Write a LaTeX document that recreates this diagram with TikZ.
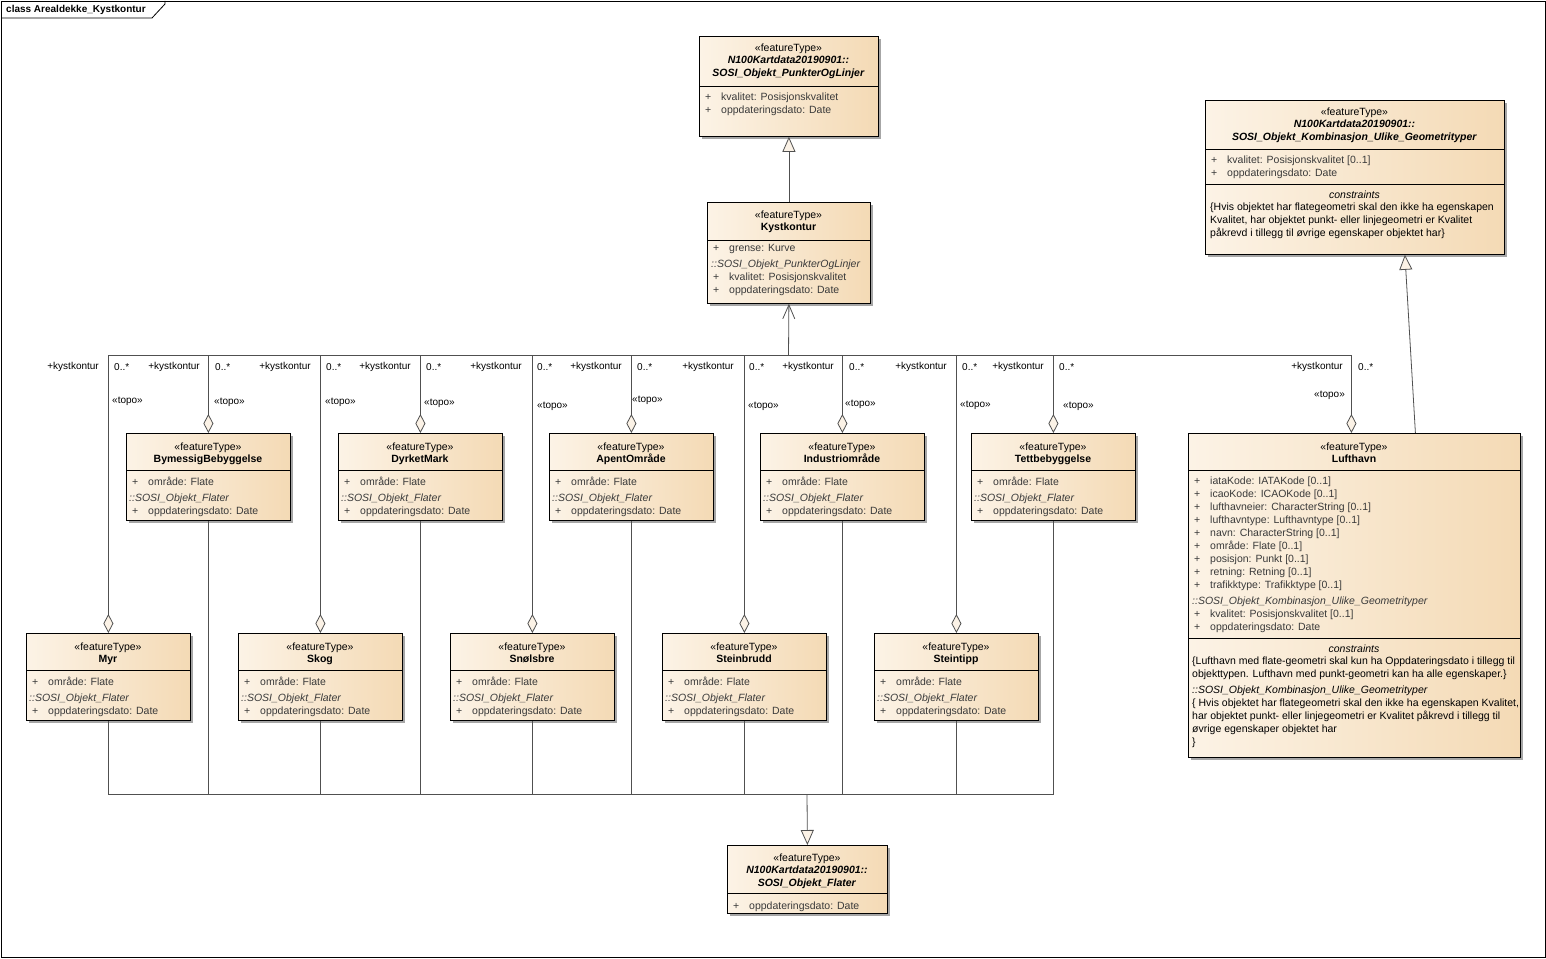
\documentclass[tikz,border=0pt]{standalone}
\usepackage{fontspec}
\setmainfont{Liberation Sans}
\usetikzlibrary{arrows.meta,shadows}

\definecolor{clsL}{HTML}{FCF3E6}
\definecolor{clsR}{HTML}{F4DAB5}
\definecolor{edge}{HTML}{505050}
\definecolor{attc}{HTML}{3A3A3A}
\definecolor{tipc}{HTML}{FBF2E6}

\newcommand{\ftype}{«featureType»}
\newcommand{\attrp}{\makebox[16pt][l]{+}}
\newcommand{\flatelines}{\attrp område: Flate\\[3pt]\hspace*{-3pt}\textit{::SOSI\_Objekt\_Flater}\\\attrp oppdateringsdato: Date}

\begin{document}
\begin{tikzpicture}[x=1pt, y=-1pt,
    cls/.style={draw=black, line width=0.8pt, rectangle, inner sep=0pt, anchor=north west,
      left color=clsL, right color=clsR,
      drop shadow={shadow xshift=3pt, shadow yshift=-3pt, fill=black!35, opacity=1}},
    hd/.style={anchor=north, align=center, inner sep=0pt, yshift=-2.5pt, font=\fontsize{10.5}{12.5}\selectfont,
      execute at begin node=\rule{0pt}{9pt}},
    att/.style={anchor=north west, align=left, inner sep=0pt, yshift=-2.5pt, text=attc, font=\fontsize{10.5}{13}\selectfont,
      execute at begin node=\rule{0pt}{9pt}},
    cns/.style={anchor=north west, align=left, inner sep=0pt, yshift=-2.5pt, font=\fontsize{10.5}{13}\selectfont,
      execute at begin node=\rule{0pt}{9pt}},
    lbl/.style={inner sep=0pt, font=\fontsize{10}{12}\selectfont},
    line/.style={draw=edge, line width=0.8pt},
    gen/.style={line, -{Triangle[length=15pt, width=13pt, fill=tipc]}},
    agg/.style={line, -{Diamond[length=19pt, width=10pt, fill=tipc]}},
    nav/.style={line, -{Straight Barb[length=14pt, width=12pt]}}]

  \useasboundingbox (0,0) rectangle (1546,958);
  % frame
  \draw[line width=0.8pt] (1,1) rectangle (1545,957);
  \draw[line width=0.8pt] (1,18) -- (152,18) -- (165,4) -- (165,1);
  \node[anchor=west, inner sep=0pt, font=\bfseries\fontsize{10}{12}\selectfont] (ttl) at (6,10) {class Arealdekke\_Kystkontur};

  % N100 PunkterOgLinjer
  \node[cls, minimum width=179pt, minimum height=100pt] (pol) at (699,36) {};
  \draw (699,86) -- (878,86);
  \node[hd] (polh) at (788.5,41) {\ftype\\\textbf{\textit{N100Kartdata20190901::}}\\\textbf{\textit{SOSI\_Objekt\_PunkterOgLinjer}}};
  \node[att] (pola) at (705,90) {\attrp kvalitet: Posisjonskvalitet\\\attrp oppdateringsdato: Date};

  % Kystkontur
  \node[cls, minimum width=163pt, minimum height=101pt] (kyst) at (707,202) {};
  \draw (707,240) -- (870,240);
  \node[hd] (kysth) at (788.5,208) {\ftype\\\textbf{Kystkontur}};
  \node[att] (kysta) at (713,242) {\attrp grense: Kurve\\[3pt]\hspace*{-2pt}\textit{::SOSI\_Objekt\_PunkterOgLinjer}\\\attrp kvalitet: Posisjonskvalitet\\\attrp oppdateringsdato: Date};

  % N100 Kombinasjon
  \node[cls, minimum width=299pt, minimum height=154pt] (komb) at (1205,100) {};
  \draw (1205,149) -- (1504,149);
  \draw (1205,184) -- (1504,184);
  \node[hd] (kombh) at (1354.5,105) {\ftype\\\textbf{\textit{N100Kartdata20190901::}}\\\textbf{\textit{SOSI\_Objekt\_Kombinasjon\_Ulike\_Geometrityper}}};
  \node[att] (komba) at (1211,153) {\attrp kvalitet: Posisjonskvalitet [0..1]\\\attrp oppdateringsdato: Date};
  \node[hd] (kombc) at (1354.5,187) {\textit{constraints}};
  \node[cns] (kombt) at (1210,200) {\{Hvis objektet har flategeometri skal den ikke ha egenskapen\\Kvalitet, har objektet punkt- eller linjegeometri er Kvalitet\\påkrevd i tillegg til øvrige egenskaper objektet har\}};

  % Lufthavn
  \node[cls, minimum width=332pt, minimum height=324pt] (luft) at (1188,433) {};
  \draw (1188,470) -- (1520,470);
  \draw (1188,638) -- (1520,638);
  \node[hd] (lufth) at (1354,440) {\ftype\\\textbf{Lufthavn}};
  \node[att] (lufta) at (1194,474) {\attrp iataKode: IATAKode [0..1]\\\attrp icaoKode: ICAOKode [0..1]\\\attrp lufthavneier: CharacterString [0..1]\\\attrp lufthavntype: Lufthavntype [0..1]\\\attrp navn: CharacterString [0..1]\\\attrp område: Flate [0..1]\\\attrp posisjon: Punkt [0..1]\\\attrp retning: Retning [0..1]\\\attrp trafikktype: Trafikktype [0..1]\\[3pt]\hspace*{-2pt}\textit{::SOSI\_Objekt\_Kombinasjon\_Ulike\_Geometrityper}\\\attrp kvalitet: Posisjonskvalitet [0..1]\\\attrp oppdateringsdato: Date};
  \node[hd] (luftc) at (1354,641) {\textit{constraints}};
  \node[cns] (luftt) at (1192,654) {\{Lufthavn med flate-geometri skal kun ha Oppdateringsdato i tillegg til\\objekttypen. Lufthavn med punkt-geometri kan ha alle egenskaper.\}\\[3pt]\textit{::SOSI\_Objekt\_Kombinasjon\_Ulike\_Geometrityper}\\\{ Hvis objektet har flategeometri skal den ikke ha egenskapen Kvalitet,\\har objektet punkt- eller linjegeometri er Kvalitet påkrevd i tillegg til\\øvrige egenskaper objektet har\\\}};

  % area classes, upper row
  \foreach \b/\bx/\bn in {bym/126/BymessigBebyggelse, dyr/338/DyrketMark, apent/549/ApentOmråde,
      ind/760/Industriområde, tett/971/Tettbebyggelse} {
    \node[cls, minimum width=164pt, minimum height=87pt] (\b) at (\bx,433) {};
    \draw (\bx,470) -- (\bx+164,470);
    \node[hd] (\b h) at (\bx+82,440) {\ftype\\\textbf{\bn}};
    \node[att] (\b a) at (\bx+6,474) {\flatelines};
  }
  % area classes, lower row
  \foreach \b/\bx/\bn in {myr/26/Myr, skog/238/Skog, snol/450/Snølsbre,
      steinb/662/Steinbrudd, steint/874/Steintipp} {
    \node[cls, minimum width=164pt, minimum height=87pt] (\b) at (\bx,633) {};
    \draw (\bx,670) -- (\bx+164,670);
    \node[hd] (\b h) at (\bx+82,640) {\ftype\\\textbf{\bn}};
    \node[att] (\b a) at (\bx+6,674) {\flatelines};
  }

  % N100 Flater
  \node[cls, minimum width=160pt, minimum height=68pt] (flat) at (727,845) {};
  \draw (727,893) -- (887,893);
  \node[hd] (flath) at (807,851) {\ftype\\\textbf{\textit{N100Kartdata20190901::}}\\\textbf{\textit{SOSI\_Objekt\_Flater}}};
  \node[att] (flata) at (733,898) {\attrp oppdateringsdato: Date};

  % generalizations
  \draw[gen] (kyst.north) -- (pol.south);
  \draw[gen] ([xshift=61pt]luft.north) -- ([xshift=50pt]komb.south);
  \coordinate (busF) at (807,794);
  \foreach \b in {myr, bym, skog, dyr, snol, apent, steinb, ind, steint, tett}
    \draw[line] (\b.south) |- (busF);
  \draw[gen] (busF) -- (flat.north);

  % topo associations
  \coordinate (busK) at (788.5,355);
  \draw[nav] (busK) -- (kyst.south);
  \foreach \b in {myr, bym, skog, dyr, snol, apent, steinb, ind, steint, tett}
    \draw[agg] (busK) -| (\b.north);
  \draw[agg] (busK) -| ([xshift=-3pt]luft.north);

  % role labels
  \foreach \lx/\tx/\ty [count=\i] in {107/112/401, 208/214/402, 319/325/402, 419/424/403, 530/537/406,
      630/632/400, 742/748/406, 842/845/404, 955/960/405, 1052/1063/406} {
    \node[lbl, anchor=east] (kk\i) at (\lx-8,367) {+kystkontur};
    \node[lbl, anchor=west] (mu\i) at (\lx+7,367) {0..*};
    \node[lbl, anchor=west] (tp\i) at (\tx,\ty) {«topo»};
  }
  \node[lbl, anchor=east] (kk11) at (1343,367) {+kystkontur};
  \node[lbl, anchor=west] (mu11) at (1358,367) {0..*};
  \node[lbl, anchor=east] (tp11) at (1345,395) {«topo»};
\end{tikzpicture}
\end{document}
